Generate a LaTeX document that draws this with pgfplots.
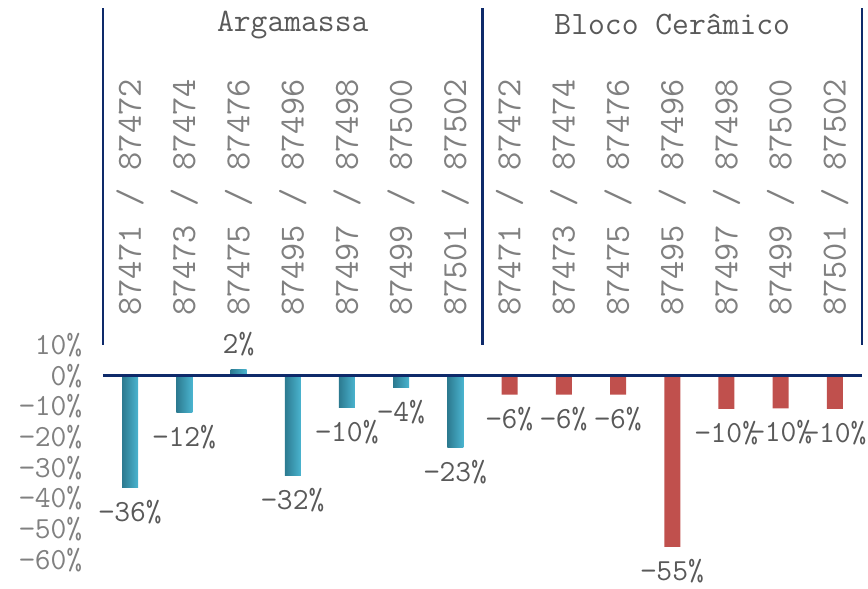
\documentclass[border=0pt]{standalone}
\usepackage{fontspec}
\usepackage{pgfplots}
\pgfplotsset{compat=1.18}
\definecolor{tealA}{HTML}{2C7A90}
\definecolor{tealB}{HTML}{4AB4CF}
\definecolor{redB}{HTML}{C0504D}
\definecolor{navy}{HTML}{0E2A6A}
\definecolor{txt}{HTML}{595959}
\definecolor{txtl}{HTML}{808080}
\pgfplotsset{tealbar/.style={bar shift=0pt, draw=none, left color=tealA, right color=tealB,
  every node near coord/.append style={anchor=north, yshift=-7pt}}}
\begin{document}
\begin{tikzpicture}[font=\ttfamily\fontsize{23}{26}\selectfont]
\begin{axis}[
  name=ax,
  scale only axis,
  width=569.25pt, height=161.25pt,
  xmin=-0.5, xmax=13.5, ymin=-60, ymax=10,
  clip=false,
  axis line style={draw=none},
  tick style={draw=none},
  ytick={-60,-50,-40,-30,-20,-10,0,10},
  yticklabels={−60\%,−50\%,−40\%,−30\%,−20\%,−10\%,0\%,10\%},
  yticklabel style={text=txtl, xshift=-12pt},
  xtick={0,...,13},
  xticklabels={87471 / 87472,87473 / 87474,87475 / 87476,87495 / 87496,87497 / 87498,87499 / 87500,87501 / 87502,87471 / 87472,87473 / 87474,87475 / 87476,87495 / 87496,87497 / 87498,87499 / 87500,87501 / 87502},
  xticklabel pos=upper,
  xticklabel style={rotate=90, anchor=west, text=txtl, font=\ttfamily\fontsize{26.5}{30}\selectfont},
  xticklabel shift=14pt,
  ybar, bar width=12pt,
  nodes near coords,
  point meta=explicit symbolic,
  every node near coord/.append style={text=txt, inner sep=2pt},
]
\addplot[tealbar] coordinates {(0,-36.5) [−36\%]};
\addplot[tealbar] coordinates {(1,-12.0) [−12\%]};
\addplot[bar shift=0pt, draw=none, left color=tealA, right color=tealB,
  every node near coord/.append style={anchor=south, yshift=8.5pt}] coordinates {(2,1.9) [2\%]};
\addplot[tealbar] coordinates {(3,-32.6) [−32\%]};
\addplot[tealbar] coordinates {(4,-10.4) [−10\%]};
\addplot[tealbar] coordinates {(5,-3.9) [−4\%]};
\addplot[tealbar] coordinates {(6,-23.4) [−23\%]};
\addplot[bar shift=0pt, draw=none, fill=redB,
  every node near coord/.append style={anchor=north, yshift=-7pt}] coordinates {
  (7,-6.2) [−6\%]
  (8,-6.2) [−6\%]
  (9,-6.2) [−6\%]
  (10,-55.7) [−55\%]
  (11,-10.8) [−10\%]
  (12,-10.6) [−10\%]
  (13,-10.8) [−10\%]
};
\draw[navy, line width=2.2pt] (axis cs:-0.5,0) -- (axis cs:13.5,0);
\draw[navy, line width=1.8pt] (axis cs:-0.5,10) -- ([yshift=252.75pt]axis cs:-0.5,10);
\draw[navy, line width=1.8pt] (axis cs:6.5,10) -- ([yshift=252.75pt]axis cs:6.5,10);
\draw[navy, line width=1.8pt] (axis cs:13.5,10) -- ([yshift=252.75pt]axis cs:13.5,10);
\node[text=txt, yshift=240pt, font=\ttfamily\fontsize{24.5}{28}\selectfont] at (axis cs:3,10) {Argamassa};
\node[text=txt, yshift=240pt, font=\ttfamily\fontsize{24.5}{28}\selectfont] at (axis cs:10,10) {Bloco Cerâmico};
\end{axis}
\pgfresetboundingbox
\path ([shift={(-77.25pt,-21.5pt)}]ax.south west) rectangle ([shift={(4.5pt,258.75pt)}]ax.north east);
\end{tikzpicture}
\end{document}
